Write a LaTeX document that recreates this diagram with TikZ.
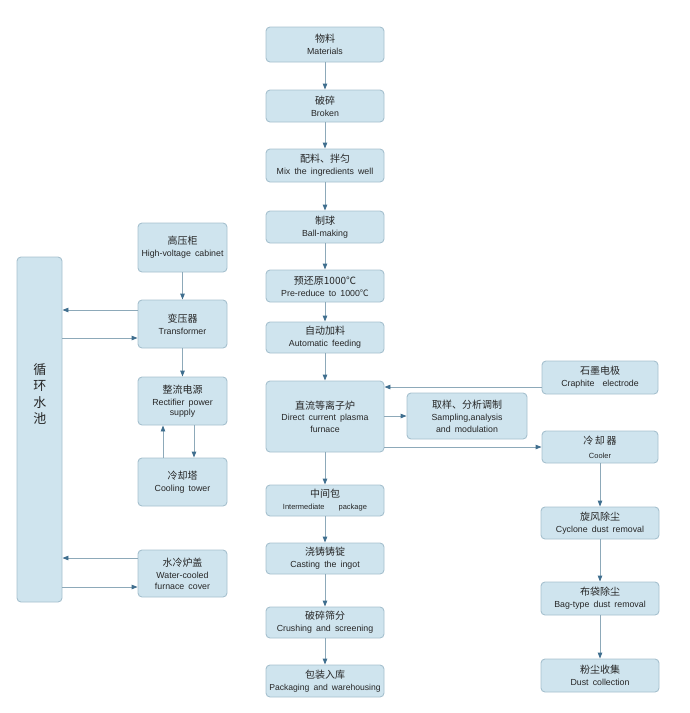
\documentclass[tikz,border=0pt]{standalone}
\usepackage{fontspec}
\setmainfont{Liberation Sans}[WordSpace=1.7]
\newfontfamily\cjk{Noto Sans CJK SC}
\usetikzlibrary{arrows.meta}
\definecolor{boxfill}{HTML}{CFE4EE}
\definecolor{boxline}{HTML}{A6C0CE}
\definecolor{lnc}{HTML}{8DA9B9}
\definecolor{tipc}{HTML}{3F6E8E}
\tikzset{
  box/.style={draw=boxline, fill=boxfill, line width=0.9pt, rounded corners=4pt,
    inner sep=0pt, align=center, font=\fontsize{8.8}{12}\selectfont, text=black!85},
  arr/.style={draw=lnc, line width=0.9pt, -{Triangle[length=6pt,width=4.5pt,color=tipc]}},
}
\newcommand{\zh}[1]{{\cjk\fontsize{10}{12}\selectfont #1}}
\begin{document}
\begin{tikzpicture}[x=1pt,y=-1pt]
\useasboundingbox (0,0) rectangle (690,713);
% main column
\node[box, minimum width=118, minimum height=35] (m1) at (325,44.5) {\zh{物料}\\Materials};
\node[box, minimum width=118, minimum height=32] (m2) at (325,106) {\zh{破碎}\\Broken};
\node[box, minimum width=118, minimum height=33] (m3) at (325,165.5) {\zh{配料、拌匀}\\Mix the ingredients well};
\node[box, minimum width=118, minimum height=32] (m4) at (325,227) {\zh{制球}\\Ball-making};
\node[box, minimum width=118, minimum height=32] (m5) at (325,286) {\zh{预还原1000℃}\\Pre-reduce to 1000{\cjk\fontsize{8.8}{12}\selectfont ℃}};
\node[box, minimum width=118, minimum height=31] (m6) at (325,337.5) {\zh{自动加料}\\Automatic feeding};
\node[box, minimum width=118, minimum height=71] (fu) at (325,416.5) {\zh{直流等离子炉}\\[-1pt]Direct current plasma\\furnace};
\node[box, minimum width=118, minimum height=31] (m7) at (325,500.5) {\zh{中间包\hspace{34pt}}\\{\fontsize{7.5}{12}\selectfont Intermediate\hspace{14pt}package}};
\node[box, minimum width=118, minimum height=31] (m8) at (325,558.5) {\zh{浇铸铸锭}\\Casting the ingot};
\node[box, minimum width=118, minimum height=31] (m9) at (325,622.5) {\zh{破碎筛分}\\Crushing and screening};
\node[box, minimum width=118, minimum height=32] (m10) at (325,681) {\zh{包装入库}\\{\fontsize{8.6}{12}\selectfont Packaging and warehousing}};
% side boxes
\node[box, minimum width=120, minimum height=46] (sa) at (467,416) {\zh{取样、分析调制}\\Sampling,analysis\\and modulation};
\node[box, minimum width=116, minimum height=33] (gr) at (600,377.5) {\zh{石墨电极}\\Craphite\hspace{8pt}electrode};
\node[box, minimum width=116, minimum height=32] (co) at (600,447) {\zh{冷\,却\,器}\\[2pt]{\fontsize{7.5}{12}\selectfont Cooler}};
\node[box, minimum width=118, minimum height=32] (cy) at (600,523) {\zh{旋风除尘}\\Cyclone dust removal};
\node[box, minimum width=118, minimum height=33] (bg) at (600,598.5) {\zh{布袋除尘}\\Bag-type dust removal};
\node[box, minimum width=118, minimum height=33] (dc) at (600,675.5) {\zh{粉尘收集}\\Dust collection};
% left part
\node[box, minimum width=45, minimum height=345] (pool) at (39.5,429.5) {};
\node[align=center, font=\cjk\fontsize{13}{16.5}\selectfont, text=black!85] (pooltxt) at (40,394) {循\\环\\水\\池};
\node[box, minimum width=89, minimum height=49] (hv) at (182.5,247.5) {\zh{高压柜}\\High-voltage cabinet};
\node[box, minimum width=89, minimum height=48] (tr) at (182.5,324) {\zh{变压器}\\Transformer};
\node[box, minimum width=89, minimum height=48] (rc) at (182.5,401) {\zh{整流电源}\\Rectifier power\\[-2pt]supply};
\node[box, minimum width=89, minimum height=48] (ct) at (182.5,482) {\zh{冷却塔}\\Cooling tower};
\node[box, minimum width=89, minimum height=47] (wc) at (182.5,573.5) {\zh{水冷炉盖}\\Water-cooled\\[-1pt]furnace cover};
% main column arrows
\draw[arr] (m1) -- (m2);
\draw[arr] (m2) -- (m3);
\draw[arr] (m3) -- (m4);
\draw[arr] (m4) -- (m5);
\draw[arr] (m5) -- (m6);
\draw[arr] (m6) -- (fu);
\draw[arr] (fu) -- (m7);
\draw[arr] (m7) -- (m8);
\draw[arr] (m8) -- (m9);
\draw[arr] (m9) -- (m10);
% right column
\coordinate (g1) at ([yshift=-9.5]gr.west);
\draw[arr] (g1) -- (g1 -| fu.east);
\draw[arr] (fu.east |- sa.west) -- (sa.west);
\draw[arr] (fu.east |- co.west) -- (co.west);
\draw[arr] (co) -- (cy);
\draw[arr] (cy) -- (bg);
\draw[arr] (bg) -- (dc);
% left arrows
\draw[arr] (hv) -- (tr);
\draw[arr] (tr) -- (rc);
\draw[arr] ([xshift=11.5]rc.south) -- ([xshift=11.5]ct.north);
\draw[arr] ([xshift=-19.5]ct.north) -- ([xshift=-19.5]rc.south);
\coordinate (t1) at ([yshift=14]tr.west);
\coordinate (t2) at ([yshift=-14]tr.west);
\draw[arr] (t1) -- (t1 -| pool.east);
\draw[arr] (t2 -| pool.east) -- (t2);
\coordinate (w1) at ([yshift=15.5]wc.west);
\coordinate (w2) at ([yshift=-13.5]wc.west);
\draw[arr] (w1) -- (w1 -| pool.east);
\draw[arr] (w2 -| pool.east) -- (w2);
\end{tikzpicture}
\end{document}
